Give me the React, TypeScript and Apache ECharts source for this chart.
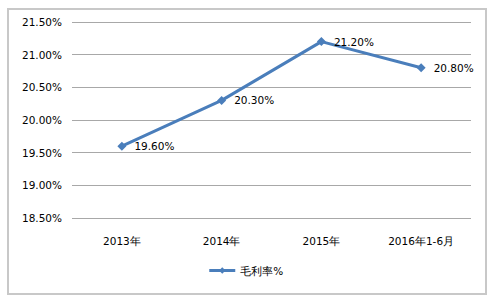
import React, { useEffect, useRef } from "react";
import * as echarts from "echarts";

const categories = ["2013年", "2014年", "2015年", "2016年1-6月"];
const grossMargin = [19.6, 20.3, 21.2, 20.8];
const seriesName = "毛利率%";

export default function App() {
  const ref = useRef<HTMLDivElement>(null);
  useEffect(() => {
    const chart = echarts.init(ref.current!, null, { renderer: "svg" });
    const font = "DejaVu Sans";
    chart.setOption({
      animation: false,
      backgroundColor: "#fff",
      graphic: [
        {
          type: "rect",
          shape: { x: 8, y: 9, width: 478, height: 285 },
          style: { fill: "none", stroke: "#c8c8c8", lineWidth: 2 },
          silent: true,
        },
      ],
      grid: { left: 72, right: 20, top: 22, bottom: 81 },
      xAxis: {
        type: "category",
        data: categories,
        boundaryGap: true,
        axisLine: { show: false },
        axisTick: { show: false },
        axisLabel: { color: "#000", fontFamily: font, fontSize: 10.5, margin: 17 },
      },
      yAxis: {
        type: "value",
        min: 18.5,
        max: 21.5,
        interval: 0.5,
        axisLine: { show: false },
        axisTick: { show: false },
        splitLine: { lineStyle: { color: "#a8a8a8", width: 1 } },
        axisLabel: {
          color: "#000",
          fontFamily: font,
          fontSize: 10.5,
          margin: 10,
          formatter: (v: number) => v.toFixed(2) + "%",
        },
      },
      legend: {
        bottom: 18,
        left: "center",
        itemWidth: 26,
        itemHeight: 8,
        itemGap: 4,
        data: [seriesName],
        itemStyle: { borderWidth: 0 },
        lineStyle: { width: 3 },
        textStyle: { color: "#000", fontFamily: font, fontSize: 10.5 },
      },
      series: [
        {
          name: seriesName,
          type: "line",
          data: grossMargin,
          symbol: "diamond",
          symbolSize: 9,
          lineStyle: { color: "#4a7ebb", width: 3 },
          itemStyle: { color: "#4a7ebb" },
          label: {
            show: true,
            position: "right",
            distance: 8,
            color: "#000",
            fontFamily: font,
            fontSize: 10.5,
            formatter: (p: any) => p.value.toFixed(2) + "%",
          },
        },
      ],
    });
    return () => chart.dispose();
  }, []);
  return <div ref={ref} style={{ width: 491, height: 299, position: "absolute", left: 0, top: 0 }} />;
}
